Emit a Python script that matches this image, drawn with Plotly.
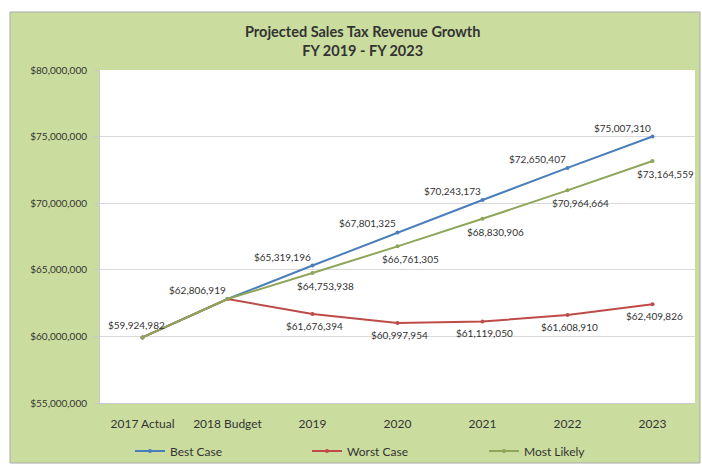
import plotly.graph_objects as go

categories = ["2017 Actual", "2018 Budget", "2019", "2020", "2021", "2022", "2023"]

best_case = [59924982, 62806919, 65319196, 67801325, 70243173, 72650407, 75007310]
worst_case = [59924982, 62806919, 61676394, 60997954, 61119050, 61608910, 62409826]
most_likely = [59924982, 62806919, 64753938, 66761305, 68830906, 70964664, 73164559]

y_ticks = [55000000, 60000000, 65000000, 70000000, 75000000, 80000000]

series = [
    ("Best Case", best_case, "#4a7ebb"),
    ("Worst Case", worst_case, "#be4b48"),
    ("Most Likely", most_likely, "#8ea55a"),
]

FONT = "Lato"
GREEN = "#cadd9f"
W, H = 702, 466

fig = go.Figure()
for name, vals, color in series:
    fig.add_trace(go.Scatter(
        x=categories, y=vals, name=name, mode="lines+markers",
        line=dict(color=color, width=2),
        marker=dict(size=4, color=color),
    ))


def money(v):
    return "${:,.0f}".format(v)


annotations = []
label_style = dict(showarrow=False, font=dict(family=FONT, size=10, color="#333333"))

# category positions are given by index so that "2019" etc. are not read as numbers
annotations.append(dict(x=0, y=most_likely[0], text=money(most_likely[0]),
                        xshift=-6, yshift=12, **label_style))
annotations.append(dict(x=1, y=most_likely[1], text=money(most_likely[1]),
                        xshift=-30, yshift=9, **label_style))

# projections: best above-left, most likely below-right, worst below
for i in range(2, len(categories)):
    annotations.append(dict(x=i, y=best_case[i], text=money(best_case[i]),
                            xshift=-30, yshift=9, **label_style))
    annotations.append(dict(x=i, y=most_likely[i], text=money(most_likely[i]),
                            xshift=13, yshift=-13, **label_style))
    annotations.append(dict(x=i, y=worst_case[i], text=money(worst_case[i]),
                            xshift=2, yshift=-12, **label_style))

# chart title
annotations.append(dict(
    xref="paper", yref="paper", x=(362 - 100) / 595, y=(403 - 41) / 333,
    text="<b>Projected Sales Tax Revenue Growth</b><br><b>FY 2019 - FY 2023</b>",
    showarrow=False, font=dict(family=FONT, size=14.5, color="#333333"),
    xanchor="center", yanchor="middle",
))


def px_x(p):
    return (p - 100) / 595


def px_y(p):
    return (403 - p) / 333


shapes = [
    # white margin round the green chart frame
    dict(type="rect", xref="paper", yref="paper", x0=px_x(0), x1=px_x(10), y0=px_y(466), y1=px_y(0),
         fillcolor="white", line=dict(width=0), layer="below"),
    dict(type="rect", xref="paper", yref="paper", x0=px_x(0), x1=px_x(702), y0=px_y(12), y1=px_y(0),
         fillcolor="white", line=dict(width=0), layer="below"),
    dict(type="rect", xref="paper", yref="paper", x0=px_x(0), x1=px_x(702), y0=px_y(466), y1=px_y(463),
         fillcolor="white", line=dict(width=0), layer="below"),
    dict(type="rect", xref="paper", yref="paper", x0=px_x(700), x1=px_x(702), y0=px_y(466), y1=px_y(0),
         fillcolor="white", line=dict(width=0), layer="below"),
    # frame outline
    dict(type="rect", xref="paper", yref="paper", x0=px_x(10), x1=px_x(700), y0=px_y(463), y1=px_y(12),
         fillcolor="rgba(0,0,0,0)", line=dict(color="#a9a9a9", width=1), layer="above"),
]

fig.update_layout(
    width=W, height=H,
    margin=dict(l=100, r=7, t=70, b=63, autoexpand=False),
    paper_bgcolor=GREEN, plot_bgcolor="white",
    font=dict(family=FONT, color="#333333"),
    annotations=annotations,
    shapes=shapes,
    showlegend=True,
    legend=dict(
        orientation="h", x=px_x(130), y=1 - 451 / H, yref="container",
        xanchor="left", yanchor="middle",
        font=dict(family=FONT, size=12, color="#333333"),
        bgcolor="rgba(0,0,0,0)", entrywidth=132, entrywidthmode="pixels",
        itemwidth=30,
    ),
    xaxis=dict(
        type="category", range=[-0.5, 6.5], showgrid=False,
        showline=True, linecolor="#c8c8c8", linewidth=1,
        tickfont=dict(family=FONT, size=12, color="#333333"),
        ticks="", ticklabelstandoff=10, fixedrange=True, automargin=False,
    ),
    yaxis=dict(
        range=[55000000, 80000000], tickvals=y_ticks,
        ticktext=[money(v) for v in y_ticks],
        showgrid=True, gridcolor="#d9d9d9", gridwidth=1,
        showline=True, linecolor="#c8c8c8", linewidth=1,
        ticks="outside", ticklen=5, tickcolor="#c8c8c8",
        tickfont=dict(family=FONT, size=10, color="#333333"),
        ticklabelstandoff=5, automargin=False,
        zeroline=False, fixedrange=True,
    ),
)

fig.write_html("out.html")
